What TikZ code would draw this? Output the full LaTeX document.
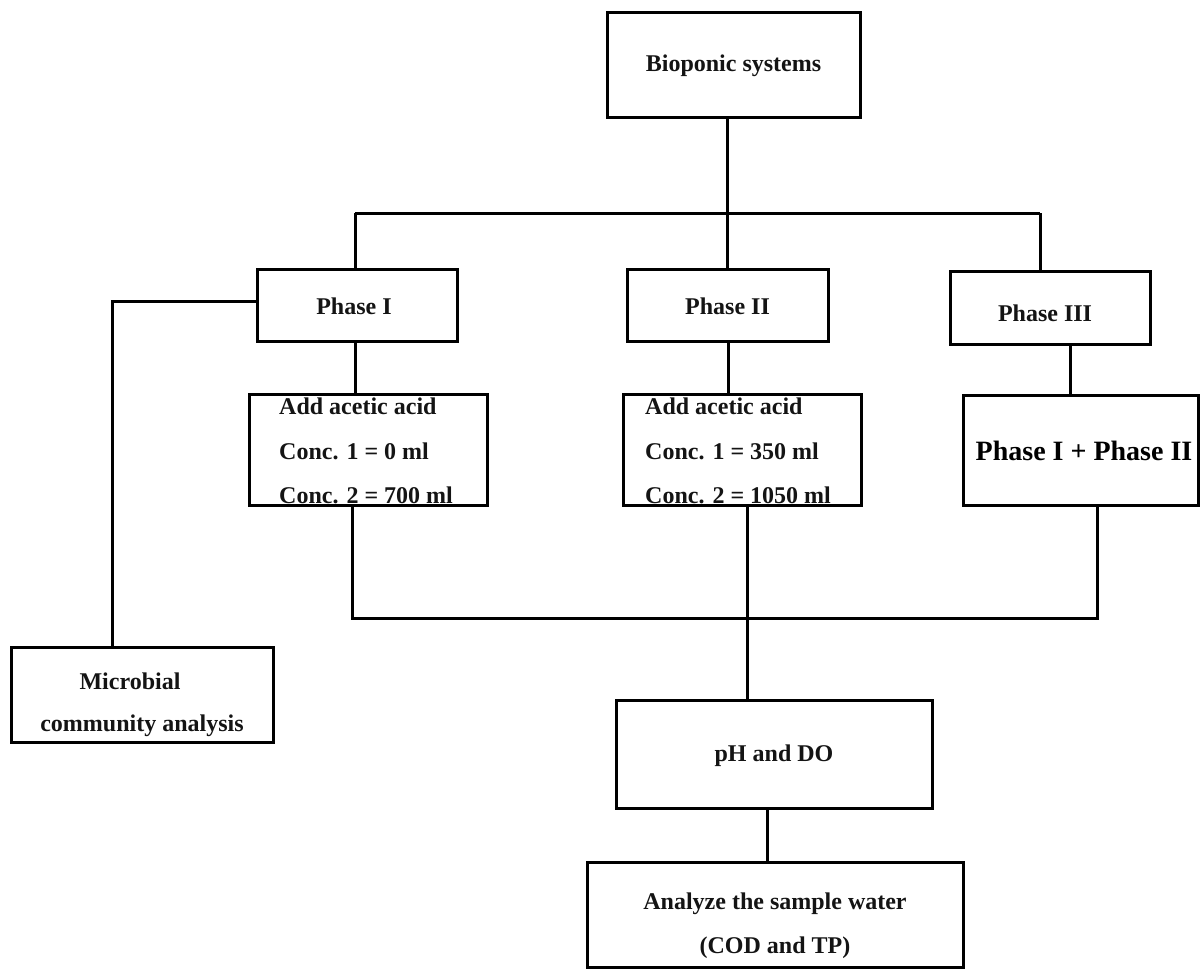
\documentclass[tikz,border=0pt]{standalone}
\usepackage{fontspec}
\setmainfont{Liberation Serif}
\begin{document}
\begin{tikzpicture}[x=1pt,y=-1pt,
  box/.style={draw=black,line width=3pt,inner sep=0pt,fill=white},
  txt/.style={inner sep=0pt,font=\fontsize{24}{24}\selectfont\bfseries,text=black!92},
  big/.style={inner sep=0pt,font=\fontsize{28}{28}\selectfont\bfseries,text=black},
  conn/.style={draw=black,line width=3pt}]
\useasboundingbox (0,0) rectangle (1201,970);
% boxes
\node[box,minimum width=253pt,minimum height=105pt] (bio) at (733.5,64.5) {};
\node[box,minimum width=200pt,minimum height=72pt] (p1) at (357,305) {};
\node[box,minimum width=201pt,minimum height=72pt] (p2) at (727.5,305) {};
\node[box,minimum width=200pt,minimum height=73pt] (p3) at (1050,307.5) {};
\node[box,minimum width=238pt,minimum height=111pt] (a1) at (368,449.5) {};
\node[box,minimum width=238pt,minimum height=111pt] (a2) at (742,449.5) {};
\node[box,minimum width=235pt,minimum height=110pt] (p12) at (1081,450) {};
\node[box,minimum width=262pt,minimum height=95pt] (mic) at (142,694.5) {};
\node[box,minimum width=316pt,minimum height=108pt] (ph) at (774,754) {};
\node[box,minimum width=376pt,minimum height=105pt] (an) at (775,914.5) {};
% connectors
\coordinate (busL) at (355,213);
\coordinate (busR) at (1040,213);
\draw[conn] (busL) -- (busR);
\draw[conn] (bio.south -| 727,0) -- (727,213);
\draw[conn] (busL) -- (p1.north -| busL);
\draw[conn] (727,213) -- (p2.north -| 727,0);
\draw[conn] (busR) -- (p3.north -| busR);
\coordinate (mc) at (112,301);
\draw[conn] (p1.west |- mc) -- (mc) -- (mic.north -| mc);
\draw[conn] (p1.south -| 355,0) -- (a1.north -| 355,0);
\draw[conn] (p2.south -| 728,0) -- (a2.north -| 728,0);
\draw[conn] (p3.south -| 1070,0) -- (p12.north -| 1070,0);
\coordinate (bb) at (352,618);
\coordinate (bbR) at (1097,618);
\draw[conn] (a1.south -| bb) -- (bb) -- (bbR) -- (p12.south -| bbR);
\draw[conn] (a2.south -| 747,0) -- (ph.north -| 747,0);
\draw[conn] (ph.south -| 767,0) -- (an.north -| 767,0);
% texts
\node[txt] (tbio) at (733.5,66) {Bioponic systems};
\node[txt] (tp1) at (354,306) {Phase I};
\node[txt] (tp2) at (727.5,306) {Phase II};
\node[txt] (tp3) at (1045,313) {Phase III};
\node[txt,anchor=base west] (a1l1) at (279,414) {Add acetic acid};
\node[txt,anchor=base west] (a1l2) at (279,459) {Conc. 1 = 0 ml};
\node[txt,anchor=base west] (a1l3) at (279,503) {Conc. 2 = 700 ml};
\node[txt,anchor=base west] (a2l1) at (645,414) {Add acetic acid};
\node[txt,anchor=base west] (a2l2) at (645,459) {Conc. 1 = 350 ml};
\node[txt,anchor=base west] (a2l3) at (645,503) {Conc. 2 = 1050 ml};
\node[big] (tp12) at (1084,451) {Phase I + Phase II};
\node[txt] (tm1) at (130,681) {Microbial};
\node[txt] (tm2) at (142,726) {community analysis};
\node[txt] (tph) at (774,756) {pH and DO};
\node[txt] (tan1) at (775,904) {Analyze the sample water};
\node[txt] (tan2) at (775,948) {(COD and TP)};
\end{tikzpicture}
\end{document}
